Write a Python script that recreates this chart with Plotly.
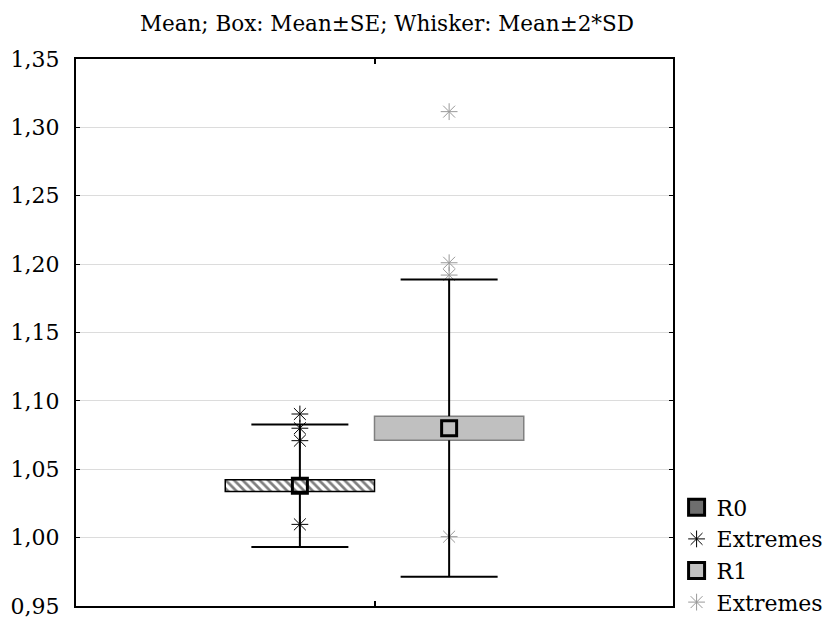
import numpy as np
import plotly.graph_objects as go

# ---- data ----
groups = ["R0", "R1"]
group_pos = [1.5, 2.5]            # category slots on the x axis (0..4)
means = [1.038, 1.080]
se = [0.0043, 0.0088]
two_sd = [0.0448, 0.1087]
extremes_r0 = [1.0904, 1.0800, 1.0709, 1.0097]
extremes_r1 = [1.3115, 1.2010, 1.1920, 1.0007]
y_ticks = [0.95, 1.00, 1.05, 1.10, 1.15, 1.20, 1.25, 1.30, 1.35]

FONT = "DejaVu Serif"
box_width = 1.0
cap_half = 0.325

fig = go.Figure()

box_styles = [
    dict(color="white", pattern=dict(shape="\\", fgcolor="black", bgcolor="white",
                                     size=6, solidity=0.45),
         line=dict(color="black", width=1.5)),
    dict(color="#c0c0c0", line=dict(color="#808080", width=1.5)),
]
legend_fill = ["#6e6e6e", "#c0c0c0"]
legend_edge = ["black", "black"]
ext_colors = ["black", "#999999"]
extremes = [extremes_r0, extremes_r1]

# boxes: mean ± SE
for i, g in enumerate(groups):
    fig.add_trace(go.Bar(
        x=[group_pos[i]], y=[2 * se[i]], base=[means[i] - se[i]],
        width=box_width, marker=box_styles[i], name=g, showlegend=False,
    ))

for i, g in enumerate(groups):
    # legend entry for the group (box + mean symbol)
    fig.add_trace(go.Scatter(
        x=[None], y=[None], mode="markers", name=g,
        marker=dict(symbol="square", size=16, color=legend_fill[i],
                    line=dict(width=3, color=legend_edge[i])),
    ))
    fig.add_trace(go.Scatter(
        x=[group_pos[i]] * len(extremes[i]), y=extremes[i], mode="markers",
        marker=dict(symbol="asterisk-open", size=14, color=ext_colors[i],
                    line=dict(width=1, color=ext_colors[i])),
        name="Extremes", showlegend=True,
    ))

# whiskers: mean ± 2*SD (drawn outside the box)
wx, wy = [], []
for i in range(len(groups)):
    p, m = group_pos[i], means[i]
    wx += [p, p, None, p, p, None,
           p - cap_half, p + cap_half, None, p - cap_half, p + cap_half, None]
    wy += [m + se[i], m + two_sd[i], None, m - se[i], m - two_sd[i], None,
           m + two_sd[i], m + two_sd[i], None, m - two_sd[i], m - two_sd[i], None]
fig.add_trace(go.Scatter(x=wx, y=wy, mode="lines", line=dict(color="black", width=2),
                         showlegend=False, hoverinfo="skip"))

# means
fig.add_trace(go.Scatter(
    x=group_pos, y=means, mode="markers",
    marker=dict(symbol="square-open", size=15, color="black", line=dict(width=3, color="black")),
    showlegend=False,
))

W, H = 827, 611   # page body has an 8px margin
fig.update_layout(
    width=W, height=H,
    margin=dict(l=68, r=162, t=51, b=13, autoexpand=False),
    paper_bgcolor="white", plot_bgcolor="white",
    separators=",.",
    barmode="overlay",
    font=dict(family=FONT, size=22, color="black"),
    title=dict(text="Mean; Box: Mean±SE; Whisker: Mean±2*SD", x=379 / W, xanchor="center",
               y=1 - 15 / H, yanchor="middle", font=dict(family=FONT, size=21.5, color="black")),
    legend=dict(x=1.006, xanchor="left", y=-0.032, yanchor="bottom",
                font=dict(family=FONT, size=22, color="black"),
                bgcolor="rgba(0,0,0,0)", traceorder="normal", itemwidth=30),
    xaxis=dict(range=[0, 4], tickvals=[2], showticklabels=False, ticks="inside", ticklen=5,
               tickwidth=1.5, tickcolor="black", showgrid=False, zeroline=False,
               showline=True, linecolor="black", linewidth=2, mirror="ticks", automargin=False),
    yaxis=dict(range=[0.95, 1.35], tickvals=y_ticks, tickformat=".2f", ticks="inside",
               ticklen=4, tickwidth=1, tickcolor="black", showgrid=True, gridcolor="#dcdcdc",
               gridwidth=1, zeroline=False, showline=True, linecolor="black", linewidth=2,
               mirror="ticks", ticklabelstandoff=10, automargin=False,
               tickfont=dict(family=FONT, size=22, color="black")),
)

fig.write_html("out.html")
